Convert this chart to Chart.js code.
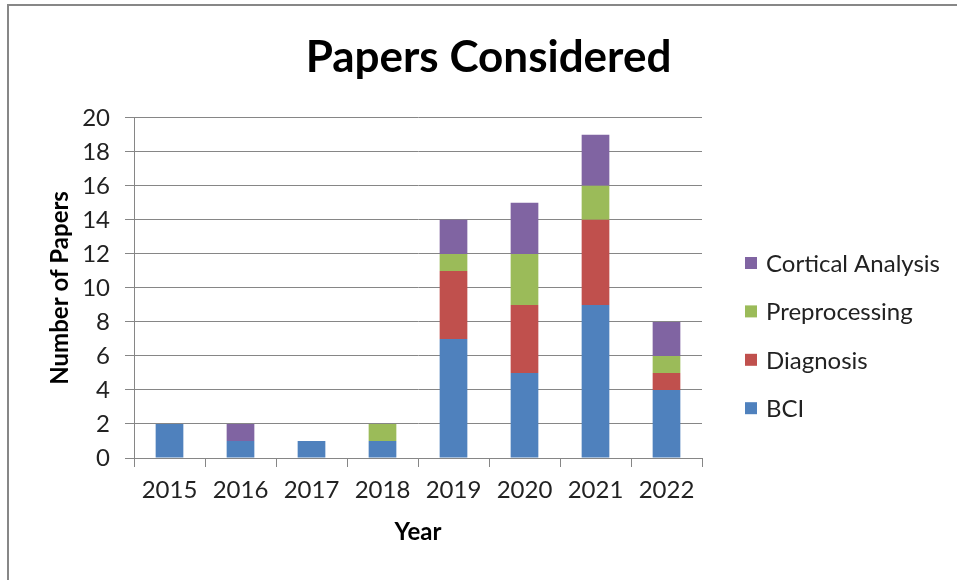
<!DOCTYPE html>
<html>
<head>
<meta charset="utf-8">
<script src="https://cdn.jsdelivr.net/npm/chart.js@4.4.0/dist/chart.umd.min.js"></script>
<style>
  html, body { margin: 0; padding: 0; background: #fff; }
  #wrap { width: 957px; height: 580px; position: relative; }
</style>
</head>
<body>
<div id="wrap"><canvas id="papersChart" width="957" height="580"></canvas></div>
<script>
const years = ["2015", "2016", "2017", "2018", "2019", "2020", "2021", "2022"];
const bci = [2, 1, 1, 1, 7, 5, 9, 4];
const diagnosis = [0, 0, 0, 0, 4, 4, 5, 1];
const preprocessing = [0, 0, 0, 1, 1, 3, 2, 1];
const cortical = [0, 1, 0, 0, 2, 3, 3, 2];
const yTicks = [0, 2, 4, 6, 8, 10, 12, 14, 16, 18, 20];

const FONT = "Lato, 'Open Sans', sans-serif";
const GRID = "#868686";

/* ================= FRAME + LEGEND ================= */

const framePlugin = {
  id: "frame",
  beforeDraw(chart) {
    const c = chart.ctx;
    c.save();
    c.strokeStyle = "#878787";
    c.lineWidth = 2;
    c.strokeRect(8, 5, 1000, 1000);
    c.restore();
  }
};

const sideLegend = {
  id: "sideLegend",
  afterDraw(chart) {
    const c = chart.ctx;
    const sets = chart.data.datasets.slice().reverse();
    c.save();
    c.font = "24px " + FONT;
    c.textBaseline = "middle";
    c.textAlign = "left";
    sets.forEach((ds, i) => {
      const y = 263 + i * 48.4;
      c.fillStyle = ds.backgroundColor;
      c.fillRect(745, y - 6, 12, 12);
      c.fillStyle = "#222";
      c.fillText(ds.label, 766, y + 1);
    });
    c.restore();
  }
};

new Chart(document.getElementById("papersChart"), {
  type: "bar",
  data: {
    labels: years,
    datasets: [
      { label: "BCI", data: bci, backgroundColor: "#4F81BD" },
      { label: "Diagnosis", data: diagnosis, backgroundColor: "#C0504D" },
      { label: "Preprocessing", data: preprocessing, backgroundColor: "#9BBB59" },
      { label: "Cortical Analysis", data: cortical, backgroundColor: "#8064A2" }
    ].map(d => Object.assign(d, { barPercentage: 0.39, categoryPercentage: 1, borderWidth: 0 }))
  },
  options: {
    responsive: false,
    animation: false,
    layout: { padding: { left: 20, top: 0, right: 0, bottom: 0 } },
    plugins: {
      legend: { display: false },
      tooltip: { enabled: false },
      title: {
        display: true,
        text: "Papers Considered",
        color: "#000",
        font: { family: FONT, size: 44, weight: "bold", lineHeight: 1.2 },
        padding: { top: 31, bottom: 34 }
      }
    },
    scales: {
      x: {
        stacked: true,
        grid: { display: true, offset: true, drawOnChartArea: false, drawTicks: true, tickLength: 9, color: GRID },
        border: { color: GRID },
        ticks: { color: "#222", font: { family: FONT, size: 24 }, padding: 9, maxRotation: 0 },
        title: {
          display: true, text: "Year", color: "#000",
          font: { family: FONT, size: 24, weight: "bold", lineHeight: 1.2 },
          padding: { top: 0, bottom: 33 }
        },
        afterFit(s) { s.height = 122; }
      },
      y: {
        stacked: true,
        min: 0,
        max: 20,
        afterBuildTicks(s) { s.ticks = yTicks.map(v => ({ value: v })); },
        grid: { color: GRID, tickLength: 9 },
        border: { color: GRID },
        ticks: { color: "#222", font: { family: FONT, size: 24 }, padding: 15 },
        title: {
          display: true, text: "Number of Papers", color: "#000",
          font: { family: FONT, size: 24, weight: "bold", lineHeight: 1.2 },
          padding: { top: 26, bottom: 0 }
        },
        afterFit(s) { s.width = 114; }
      },
      legendSpace: {
        type: "linear",
        position: "right",
        display: true,
        grid: { display: false },
        border: { display: false },
        ticks: { display: false },
        afterFit(s) { s.width = 255; }
      }
    }
  },
  plugins: [framePlugin, sideLegend]
});
</script>
</body>
</html>
